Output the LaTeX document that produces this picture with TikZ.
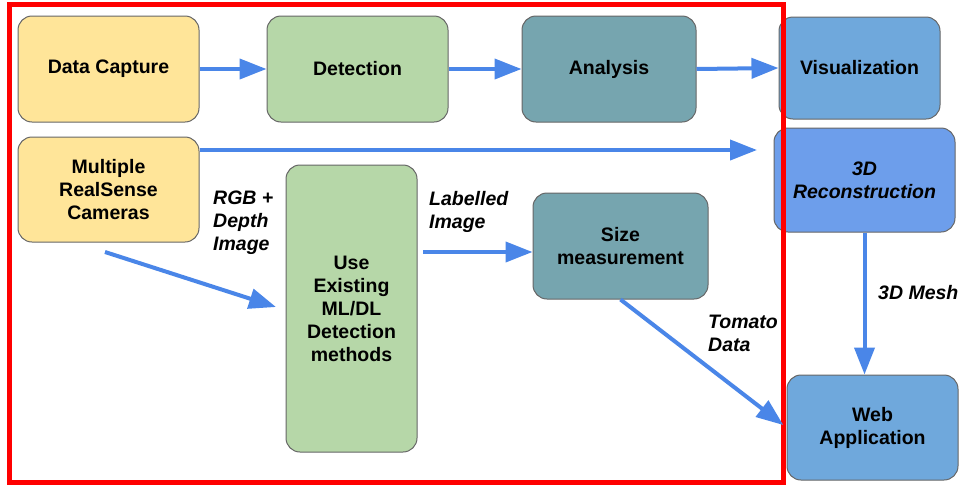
\documentclass[tikz,border=0pt]{standalone}
\usepackage{fontspec}
\setmainfont{Liberation Sans}
\usetikzlibrary{arrows.meta}
\definecolor{cyel}{HTML}{FFE599}
\definecolor{cgrn}{HTML}{B6D7A8}
\definecolor{cteal}{HTML}{76A5AF}
\definecolor{cblue}{HTML}{6FA8DC}
\definecolor{cblue2}{HTML}{6D9EEB}
\definecolor{carrow}{HTML}{4A86E8}
\definecolor{cborder}{HTML}{666666}
\definecolor{cred}{HTML}{FF0000}
\begin{document}
\begin{tikzpicture}[x=1pt,y=-1pt,
  box/.style={draw=cborder, line width=1pt, rounded corners=14pt, align=center,
    font=\fontsize{19.5}{23}\selectfont\bfseries, inner sep=0pt},
  lbl/.style={anchor=west, align=left, inner sep=0pt,
    font=\fontsize{19.5}{23}\selectfont\bfseries\itshape},
  arr/.style={draw=carrow, line width=4pt, -{Triangle[length=27pt,width=20pt]}}]
\path[fill=white] (0,0) rectangle (960,485);
\useasboundingbox (0,0) rectangle (960,485);
% boxes
\node[box, fill=cyel, minimum width=181pt, minimum height=106pt] (cap) at (108.5,69) {Data Capture};
\node[box, fill=cgrn, minimum width=181pt, minimum height=106pt] (det) at (357.5,69) {Detection};
\node[box, fill=cteal, minimum width=174pt, minimum height=106pt] (ana) at (609,69) {Analysis};
\node[box, fill=cblue, minimum width=161pt, minimum height=102pt] (vis) at (859.5,68) {Visualization};
\node[box, fill=cblue2, minimum width=181pt, minimum height=104pt] (rec) at (864.5,180) {\itshape 3D\\\itshape Reconstruction};
\node[box, fill=cyel, minimum width=181pt, minimum height=105pt] (cams) at (108.5,189.5) {Multiple\\RealSense\\Cameras};
\node[box, fill=cgrn, minimum width=131pt, minimum height=287pt] (ml) at (351.5,308.5) {Use\\Existing\\ML/DL\\Detection\\methods};
\node[box, fill=cteal, minimum width=175pt, minimum height=106pt] (size) at (620.5,246) {Size\\measurement};
\node[box, fill=cblue, minimum width=171pt, minimum height=105pt] (web) at (872.5,427.5) {Web\\Application};
% frame
\draw[cred, line width=5pt] (9.5,4.5) rectangle (783,482.5);
% labels
\node[lbl] (lrgb) at (213,223) {RGB +\\Depth\\Image};
\node[lbl] (llab) at (429,211.5) {Labelled\\Image};
\node[lbl] (ltom) at (708,333.5) {Tomato\\Data};
\node[lbl] (lmesh) at (878,293) {3D Mesh};
% coordinates
\coordinate (recend) at (757,150);
\coordinate (d1) at (105,252);
\coordinate (d2) at (276,307);
\coordinate (l1) at (423,252);
% arrows
\draw[arr] (cap) -- (det);
\draw[arr] (det) -- (ana);
\draw[arr] (ana.east) -- (vis.west);
\draw[arr] (cams.east |- recend) -- (recend);
\draw[arr] (d1) -- (d2);
\draw[arr] (l1) -- (l1 -| size.west);
\draw[arr, shorten >=4pt] (size.south) -- (web.west);
\draw[arr] (rec.south) -- (rec.south |- web.north);
\end{tikzpicture}
\end{document}
